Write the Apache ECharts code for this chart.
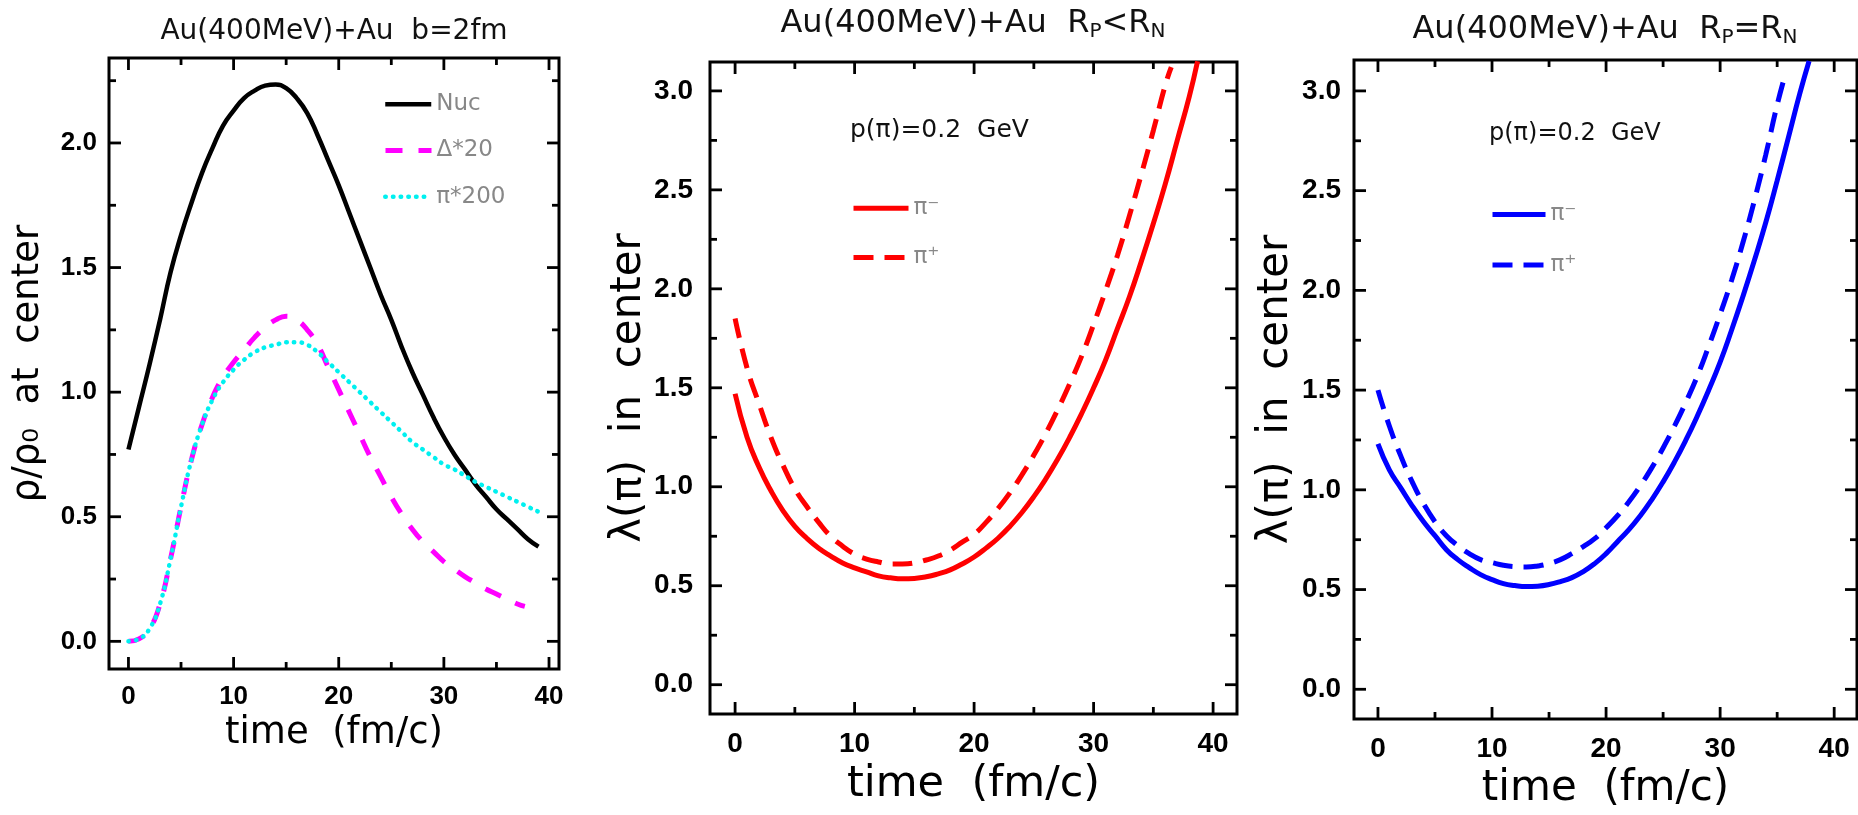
<!DOCTYPE html>
<html><head><meta charset="utf-8">
<script src="https://cdn.jsdelivr.net/npm/echarts@6/dist/echarts.min.js"></script>
<style>html,body{margin:0;padding:0;background:#fff}#c{width:1858px;height:815px}</style>
</head><body><div id="c"></div>
<script>
// ---------- data ----------
const xMajor = [0, 10, 20, 30, 40];
const xMinor = [5, 15, 25, 35];
const yMajor1 = [0, 0.5, 1.0, 1.5, 2.0];
const yMinor1 = [0.25, 0.75, 1.25, 1.75, 2.25];
const yMajor23 = [0, 0.5, 1.0, 1.5, 2.0, 2.5, 3.0];
const yMinor23 = [0.25, 0.75, 1.25, 1.75, 2.25, 2.75];

const tNuc = [0,1,2,3,4,5,6,7,8,9,10,11,12,13,14,15,16,17,18,19,20,21,22,23,24,25,26,27,28,29,30,31,32,33,34,35,36,37,38,39];
const nuc = [0.77,0.94,1.11,1.29,1.48,1.63,1.76,1.88,1.98,2.07,2.13,2.18,2.21,2.23,2.235,2.22,2.18,2.12,2.03,1.93,1.83,1.72,1.61,1.50,1.39,1.29,1.18,1.08,0.99,0.90,0.82,0.75,0.69,0.63,0.58,0.53,0.49,0.45,0.41,0.38];
const tDelta = [0,1,2,3,4,5,6,7,8,9,10,11,12,13,14,15,16,17,18,19,20,21,22,23,24,25,26,27,28,29,30,31,32,33,34,35,36,37,37.7];
const delta = [0,0.01,0.05,0.15,0.33,0.54,0.73,0.87,0.98,1.06,1.12,1.17,1.22,1.26,1.29,1.305,1.29,1.25,1.19,1.10,1.01,0.92,0.83,0.74,0.66,0.58,0.51,0.45,0.40,0.36,0.32,0.29,0.26,0.235,0.21,0.19,0.17,0.15,0.14];
const tPi = [0,1,2,3,4,5,6,7,8,9,10,11,12,13,14,15,16,17,18,19,20,21,22,23,24,25,26,27,28,29,30,31,32,33,34,35,36,37,38,39];
const pion = [0,0.01,0.05,0.15,0.33,0.54,0.73,0.87,0.97,1.04,1.09,1.13,1.16,1.18,1.19,1.20,1.20,1.19,1.16,1.12,1.08,1.04,1.00,0.96,0.92,0.88,0.84,0.80,0.77,0.74,0.71,0.69,0.665,0.64,0.62,0.60,0.58,0.56,0.54,0.52];

const tP2m = [0,1,2,3,4,5,6,7,8,9,10,11,12,13,14,15,16,17,18,19,20,21,22,23,24,25,26,27,28,29,30,31,32,33,34,35,36,37,38,38.7];
const p2m = [1.47,1.25,1.10,0.98,0.88,0.80,0.74,0.69,0.65,0.615,0.59,0.57,0.55,0.54,0.535,0.537,0.545,0.56,0.58,0.61,0.645,0.69,0.74,0.80,0.87,0.95,1.04,1.14,1.25,1.37,1.50,1.64,1.80,1.96,2.14,2.33,2.53,2.75,2.97,3.15];
const tP2p = [0,1,2,3,4,5,6,7,8,9,10,11,12,13,14,15,16,17,18,19,20,21,22,23,24,25,26,27,28,29,30,31,32,33,34,35,36,36.5];
const p2p = [1.85,1.60,1.42,1.25,1.11,0.99,0.90,0.82,0.75,0.70,0.66,0.635,0.62,0.61,0.61,0.615,0.63,0.65,0.68,0.72,0.76,0.82,0.89,0.97,1.06,1.16,1.27,1.39,1.52,1.66,1.82,1.99,2.17,2.37,2.58,2.80,3.03,3.12];

const tP3m = [0,1,2,3,4,5,6,7,8,9,10,11,12,13,14,15,16,17,18,19,20,21,22,23,24,25,26,27,28,29,30,31,32,33,34,35,36,37,37.8];
const p3m = [1.23,1.10,1.01,0.92,0.84,0.77,0.70,0.65,0.61,0.575,0.55,0.53,0.52,0.515,0.517,0.525,0.54,0.56,0.59,0.63,0.68,0.74,0.80,0.87,0.95,1.04,1.14,1.25,1.37,1.50,1.64,1.80,1.97,2.15,2.34,2.55,2.77,2.99,3.15];
const tP3p = [0,1,2,3,4,5,6,7,8,9,10,11,12,13,14,15,16,17,18,19,20,21,22,23,24,25,26,27,28,29,30,31,32,33,34,35,35.7];
const p3p = [1.50,1.32,1.17,1.04,0.93,0.84,0.77,0.72,0.68,0.65,0.635,0.622,0.615,0.613,0.618,0.63,0.65,0.68,0.715,0.755,0.81,0.87,0.94,1.02,1.11,1.21,1.32,1.44,1.57,1.72,1.88,2.05,2.24,2.45,2.68,2.93,3.08];

// ---------- styling ----------
const LABEL_FONT = "'Liberation Sans', Arial, sans-serif";
const TEXT_FONT = "'DejaVu Sans', sans-serif";

function pts(t, v) { return t.map((x, i) => [x, v[i]]); }

function xAxisOf(gi, min, max, lab, nm) {
  return {
    type: 'value', gridIndex: gi, min: min, max: max, position: 'bottom',
    splitLine: { show: false }, axisLine: { show: false, onZero: false }, axisTick: { show: false },
    axisLabel: { show: true, customValues: xMajor, margin: lab.margin, color: '#000', fontSize: lab.size,
      fontWeight: 'bold', fontFamily: LABEL_FONT, formatter: v => String(Math.round(v)) },
    name: nm.text, nameLocation: 'middle', nameGap: nm.gap,
    nameTextStyle: { fontSize: nm.size, fontFamily: TEXT_FONT, color: '#000', fontWeight: 'normal' }
  };
}
function yAxisOf(gi, min, max, major, lab, nm) {
  return {
    type: 'value', gridIndex: gi, min: min, max: max, position: 'left',
    splitLine: { show: false }, axisLine: { show: false, onZero: false }, axisTick: { show: false },
    axisLabel: { show: true, customValues: major, margin: lab.margin, color: '#000', fontSize: lab.size,
      fontWeight: 'bold', fontFamily: LABEL_FONT, formatter: v => Number(v).toFixed(1) },
    name: nm.text, nameLocation: 'middle', nameGap: nm.gap,
    nameTextStyle: { fontSize: nm.size, fontFamily: TEXT_FONT, color: '#000', fontWeight: 'normal' }
  };
}

function line(name, gi, t, v, color, width, dash, cap) {
  return {
    name: name, type: 'line', xAxisIndex: gi, yAxisIndex: gi, data: pts(t, v),
    smooth: true, showSymbol: false, symbol: 'none', silent: true, clip: true,
    lineStyle: { color: color, width: width, type: dash || 'solid', cap: cap || 'butt' },
    itemStyle: { color: color }
  };
}

const DOT = [0.5, 7.2];
const DASH_M = [17, 16];
const DASH_R = [20, 11];

const series = [
  line('Nuc', 0, tNuc, nuc, '#000000', 4.5),
  line('Δ*20', 0, tDelta, delta, '#ff00ff', 5, DASH_M),
  line('π*200', 0, tPi, pion, '#00f0f0', 4.5, DOT, 'round'),
  line('π⁻ a', 1, tP2m, p2m, '#ff0000', 5),
  line('π⁺ a', 1, tP2p, p2p, '#ff0000', 5, DASH_R),
  line('π⁻ b', 2, tP3m, p3m, '#0000ff', 5),
  line('π⁺ b', 2, tP3p, p3p, '#0000ff', 5, DASH_R)
];

const legText = { color: '#888', fontSize: 23, fontFamily: TEXT_FONT, lineHeight: 20 };
function leg(name, left, top, w, type, cap) {
  return {
    data: [name], left: left, top: top, padding: 0, itemWidth: w, itemHeight: 20, selectedMode: false,
    formatter: n => n.split(' ')[0],
    lineStyle: { width: 'inherit', type: type || 'solid', cap: cap || 'butt' },
    itemStyle: { color: 'rgba(0,0,0,0)', borderColor: 'rgba(0,0,0,0)', borderWidth: 0, opacity: 0 },
    textStyle: legText
  };
}

const gridStyle = { show: true, borderColor: '#000', borderWidth: 3, backgroundColor: 'transparent' };
const xAxes = [
  xAxisOf(0, -1.85, 40.95, { margin: 15, size: 26 }, { text: 'time  (fm/c)', gap: 44, size: 37 }),
  xAxisOf(1, -2.1, 42.0, { margin: 16, size: 28 }, { text: 'time  (fm/c)', gap: 45, size: 43 }),
  xAxisOf(2, -2.1, 42.0, { margin: 16, size: 28 }, { text: 'time  (fm/c)', gap: 49, size: 42 })
];
const yAxes = [
  yAxisOf(0, -0.111, 2.341, yMajor1, { margin: 12, size: 26 }, { text: 'ρ/ρ₀  at  center', gap: 62, size: 37 }),
  yAxisOf(1, -0.148, 3.146, yMajor23, { margin: 17, size: 28 }, { text: 'λ(π)  in  center', gap: 55, size: 42 }),
  yAxisOf(2, -0.149, 3.155, yMajor23, { margin: 13, size: 28 }, { text: 'λ(π)  in  center', gap: 57, size: 42 })
];

const option = {
  animation: false,
  backgroundColor: '#ffffff',
  grid: [
    Object.assign({ left: 109, top: 58, width: 450, height: 611 }, gridStyle),
    Object.assign({ left: 710, top: 62, width: 527, height: 652 }, gridStyle),
    Object.assign({ left: 1354, top: 60, width: 503, height: 664 }, gridStyle)
  ],
  title: [
    { text: 'Au(400MeV)+Au  b=2fm', left: 334, top: 18, textAlign: 'center', padding: 0,
      textStyle: { fontSize: 28, fontFamily: TEXT_FONT, fontWeight: 'normal', color: '#111' } },
    { text: 'Au(400MeV)+Au  R{s|P}<R{s|N}', left: 973, top: 6, textAlign: 'center', padding: 0,
      textStyle: { fontSize: 32, fontFamily: TEXT_FONT, fontWeight: 'normal', color: '#111',
        rich: { s: { fontSize: 20, fontFamily: TEXT_FONT, color: '#111', padding: [16, 0, 0, 0] } } } },
    { text: 'Au(400MeV)+Au  R{s|P}=R{s|N}', left: 1605, top: 12, textAlign: 'center', padding: 0,
      textStyle: { fontSize: 32, fontFamily: TEXT_FONT, fontWeight: 'normal', color: '#111',
        rich: { s: { fontSize: 20, fontFamily: TEXT_FONT, color: '#111', padding: [16, 0, 0, 0] } } } },
    { text: 'p(π)=0.2  GeV', left: 850, top: 118, padding: 0,
      textStyle: { fontSize: 25, fontFamily: TEXT_FONT, fontWeight: 'normal', color: '#111' } },
    { text: 'p(π)=0.2  GeV', left: 1489, top: 122, padding: 0,
      textStyle: { fontSize: 24, fontFamily: TEXT_FONT, fontWeight: 'normal', color: '#111' } }
  ],
  legend: [
    leg('Nuc', 383, 92.7, 46),
    leg('Δ*20', 383, 139, 46, DASH_M),
    leg('π*200', 383, 185.3, 46, DOT, 'round'),
    leg('π⁻ a', 851, 196.7, 55),
    leg('π⁺ a', 851, 246, 55, DASH_R),
    leg('π⁻ b', 1490, 203, 53),
    leg('π⁺ b', 1490, 253.6, 53, DASH_R)
  ],
  xAxis: xAxes,
  yAxis: yAxes,
  series: series
};

const chart = echarts.init(document.getElementById('c'), null, { renderer: 'canvas' });
chart.setOption(option);

// inward tick marks on all four sides, positioned through the axes' own scales
function buildTicks() {
  const yTicks = [[yMajor1, yMinor1], [yMajor23, yMinor23], [yMajor23, yMinor23]];
  const W = 2.8, MAJ = 12, MIN = 7;
  const els = [];
  const rect = (x, y, w, h) => els.push({ type: 'rect', silent: true, z: 100,
    shape: { x: x, y: y, width: w, height: h }, style: { fill: '#000' } });
  yTicks.forEach((yt, gi) => {
    const f = { xAxisIndex: gi, yAxisIndex: gi };
    const xa = xAxes[gi], ya = yAxes[gi];
    const bl = chart.convertToPixel(f, [xa.min, ya.min]);
    const tr = chart.convertToPixel(f, [xa.max, ya.max]);
    const left = bl[0], bottom = bl[1], right = tr[0], top = tr[1];
    const addX = (v, len) => {
      const px = chart.convertToPixel(f, [v, ya.min])[0];
      rect(px - W / 2, bottom - len, W, len);
      rect(px - W / 2, top, W, len);
    };
    const addY = (v, len) => {
      const py = chart.convertToPixel(f, [xa.min, v])[1];
      rect(left, py - W / 2, len, W);
      rect(right - len, py - W / 2, len, W);
    };
    xMajor.forEach(v => addX(v, MAJ));
    xMinor.forEach(v => addX(v, MIN));
    yt[0].forEach(v => addY(v, MAJ));
    yt[1].forEach(v => addY(v, MIN));
  });
  chart.setOption({ graphic: { elements: els } });
}
buildTicks();
</script></body></html>
